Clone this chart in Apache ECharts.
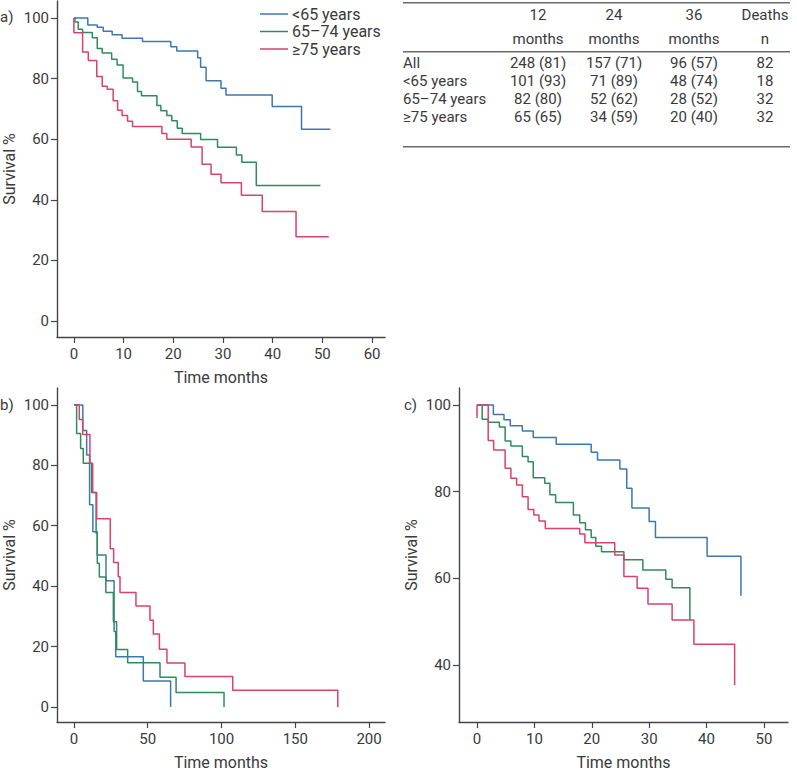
<!DOCTYPE html>
<html><head><meta charset="utf-8">
<script src="https://cdn.jsdelivr.net/npm/echarts@6/dist/echarts.min.js"></script>
<style>html,body{margin:0;padding:0;background:#fff}#c{width:797px;height:772px}</style>
</head><body><div id="c"></div>
<script>
// ---------- DATA ----------
const seriesNames = ['<65 years', '65–74 years', '≥75 years'];

// Panel a) Kaplan-Meier steps [time months, survival %]
const a_lt65 = [[0,100],[2.8,97.7],[4.7,96.9],[5.9,95.6],[7.7,94.5],[9.7,93.3],[13.8,92.2],[19.5,90.5],[20.7,89.1],[24.9,86.9],[25.5,83.7],[26.6,79.3],[29.6,76.8],[30.6,74.6],[39.9,70.8],[45.8,63.3],[51.6,63.3]];
const a_65to74 = [[0,100],[0.2,98.7],[0.87,96.3],[1.75,95.2],[3.7,93.5],[4.7,89.9],[5.7,88.4],[7.6,86.4],[8.7,84.5],[9.9,80.2],[11.8,78.9],[12.8,75.7],[13.6,74.3],[16.7,71.1],[17.5,69.4],[18.7,67.8],[19.7,66.1],[20.8,63.6],[21.8,61.9],[25.5,59.9],[28.9,57.3],[32.7,54.8],[33.8,52.4],[36.7,44.7],[49.6,44.7]];
const a_ge75 = [[0,100],[0,95.1],[1.75,88.8],[2.9,86.0],[4.6,80.7],[5.7,77.5],[6.7,76.5],[7.9,72.7],[8.8,69.5],[9.7,67.8],[10.8,65.9],[11.8,64.2],[17.7,61.9],[18.7,60.0],[23.6,57.4],[25.8,51.7],[27.6,48.4],[29.6,45.6],[33.7,41.5],[37.9,36.1],[44.7,27.8],[51.3,27.8]];

// Panel b)
const b_lt65 = [[0,100],[6,91.5],[8.6,83.4],[10.6,66.9],[12.8,58.0],[15.8,50.3],[21.7,41.8],[27.2,25.0],[28.3,16.6],[47,8.6],[65.5,0]];
const b_65to74 = [[0,100],[1.8,90.5],[4.5,85.6],[6.3,80.7],[12,71],[15,57.5],[15.8,47.6],[17.2,43],[21.6,37.9],[26.7,28.2],[28.9,19],[36.4,14.6],[58.3,9.8],[69.2,4.8],[101.7,0]];
const b_ge75 = [[0,100],[3.6,95.2],[5.9,90.2],[10.8,80.7],[12.7,71.0],[15.4,62.3],[24.6,52.4],[26.9,47.8],[30,43.1],[31.2,37.9],[42,33.4],[51.5,28.7],[53.8,24.1],[57.9,19.1],[63,14.5],[75.2,10.1],[107.6,5.5],[178.8,0]];

// Panel c)
const c_lt65 = [[0,100],[2.85,97.8],[4.7,96.6],[5.8,95.2],[7.9,94.0],[9.8,92.5],[13.8,90.9],[19.9,89.1],[21,87.3],[24.9,85.2],[26.1,80.8],[27,76.2],[30,73.1],[31.1,69.4],[40.1,65.1],[46,56]];
const c_65to74 = [[0,100],[0.9,96.7],[1.95,96.0],[3.9,94.9],[4.9,91.7],[5.9,90.5],[7.9,88.1],[8.9,86.9],[9.8,83.2],[11.8,81.9],[12.7,79.3],[13.7,77.5],[16.8,74.6],[17.9,72.8],[18.9,71.2],[19.9,69.4],[20.7,67.4],[21.7,66.1],[25.6,64.3],[28.9,61.9],[32.9,59.8],[34,57.8],[37.1,50.4]];
const c_ge75 = [[0,97],[0,100],[1.95,91.8],[2.9,89.6],[4.9,85.4],[5.9,83.1],[6.9,81.5],[7.9,78.8],[8.9,75.9],[9.9,74.6],[10.8,73.2],[11.9,71.5],[17.9,70.2],[18.8,68.2],[24,65.4],[25.6,60.4],[27.9,57.7],[29.8,54.1],[34,50.4],[37.8,44.8],[44.9,35.4]];

// Tick labels
const ticksA_x = [0,10,20,30,40,50,60];
const ticksA_y = [0,20,40,60,80,100];
const ticksB_x = [0,50,100,150,200];
const ticksB_y = [0,20,40,60,80,100];
const ticksC_x = [0,10,20,30,40,50];
const ticksC_y = [40,60,80,100];

// Table
const tableColHead1 = ['12', '24', '36', 'Deaths'];
const tableColHead2 = ['months', 'months', 'months', 'n'];
const tableRowLabels = ['All', '<65 years', '65–74 years', '≥75 years'];
const table12m = ['248 (81)', '101 (93)', '82 (80)', '65 (65)'];
const table24m = ['157 (71)', '71 (89)', '52 (62)', '34 (59)'];
const table36m = ['96 (57)', '48 (74)', '28 (52)', '20 (40)'];
const tableDeaths = ['82', '18', '32', '32'];

// ---------- CHART ----------
const FONT = 'Roboto, "Open Sans", sans-serif';
const TXT = '#3a3a3a';
const AX = '#454545';
const COLORS = ['#3c78ae', '#2f8a5c', '#d8426c'];

const chart = echarts.init(document.getElementById('c'), null, {renderer: 'svg'});

function xAx(gi, min, max, ticks) {
  return {
    type: 'value', gridIndex: gi, min: min, max: max,
    axisLine: {show: true, onZero: false, lineStyle: {color: AX, width: 1.4}},
    axisTick: {show: true, length: 6, customValues: ticks, lineStyle: {color: AX, width: 1.2}},
    axisLabel: {customValues: ticks, margin: 9, fontSize: 15, color: TXT, fontFamily: FONT},
    splitLine: {show: false},
    name: 'Time months', nameLocation: 'middle', nameGap: 32,
    nameTextStyle: {fontSize: 16, color: TXT, fontFamily: FONT}
  };
}
function yAx(gi, min, max, ticks) {
  return {
    type: 'value', gridIndex: gi, min: min, max: max,
    axisLine: {show: true, onZero: false, lineStyle: {color: AX, width: 1.4}},
    axisTick: {show: true, length: 6, customValues: ticks, lineStyle: {color: AX, width: 1.2}},
    axisLabel: {customValues: ticks, margin: 8, fontSize: 15, color: TXT, fontFamily: FONT},
    splitLine: {show: false},
    name: 'Survival %', nameLocation: 'middle', nameGap: 40,
    nameTextStyle: {fontSize: 16, color: TXT, fontFamily: FONT}
  };
}
function ser(name, idx, gi, data) {
  return {
    name: name, type: 'line', xAxisIndex: gi, yAxisIndex: gi, step: 'end',
    data: data, symbol: 'none', showSymbol: false,
    lineStyle: {width: 1.5, color: COLORS[idx]}, itemStyle: {color: COLORS[idx]},
    animation: false, silent: true
  };
}

const graphics = [];
const label = (t, x, y, align, size) => graphics.push({
  type: 'text', x: x, y: y,
  style: {text: t, fill: TXT, font: (size || 15) + 'px ' + FONT, textAlign: align || 'left', textVerticalAlign: 'middle'}
});
label('a)', 0, 17);
label('b)', 0, 405);
label('c)', 404, 405);

// table
const colX = [538, 614, 694, 765];
const rowY = [63, 81, 99, 117];
const tLeft = 403, tRight = 790;
[2.7, 51.7, 146.7].forEach(y => graphics.push({
  type: 'line', shape: {x1: tLeft, y1: y, x2: tRight, y2: y},
  style: {stroke: '#6a6a6a', lineWidth: 1.5}
}));
tableColHead1.forEach((t, i) => label(t, colX[i], 15, 'center'));
tableColHead2.forEach((t, i) => label(t, colX[i], 39, 'center'));
const cols = [table12m, table24m, table36m, tableDeaths];
tableRowLabels.forEach((t, r) => {
  label(t, tLeft, rowY[r], 'left');
  cols.forEach((col, c) => label(col[r], colX[c], rowY[r], 'center'));
});

chart.setOption({
  animation: false,
  backgroundColor: '#fff',
  textStyle: {fontFamily: FONT},
  grid: [
    {left: 57, top: 1, width: 328, height: 336},
    {left: 57, top: 388, width: 328, height: 334},
    {left: 459, top: 388, width: 329, height: 334}
  ],
  xAxis: [xAx(0, -3.4, 62.6, ticksA_x), xAx(1, -11.5, 210.8, ticksB_x), xAx(2, -3.14, 54.2, ticksC_x)],
  yAxis: [yAx(0, -5.3, 105.6, ticksA_y), yAx(1, -5.0, 105.6, ticksB_y), yAx(2, 26.85, 103.9, ticksC_y)],
  legend: {
    data: seriesNames.map(n => ({name: n, icon: 'rect'})),
    orient: 'vertical', left: 255, top: 1,
    itemWidth: 28, itemHeight: 1.5, itemGap: 1.5,
    textStyle: {fontSize: 16, lineHeight: 16, color: TXT, fontFamily: FONT, padding: [0, 0, 0, -1]}
  },
  series: [
    ser(seriesNames[0], 0, 0, a_lt65), ser(seriesNames[1], 1, 0, a_65to74), ser(seriesNames[2], 2, 0, a_ge75),
    ser(seriesNames[0], 0, 1, b_lt65), ser(seriesNames[1], 1, 1, b_65to74), ser(seriesNames[2], 2, 1, b_ge75),
    ser(seriesNames[0], 0, 2, c_lt65), ser(seriesNames[1], 1, 2, c_65to74), ser(seriesNames[2], 2, 2, c_ge75)
  ],
  graphic: graphics
});
</script>
</body></html>
